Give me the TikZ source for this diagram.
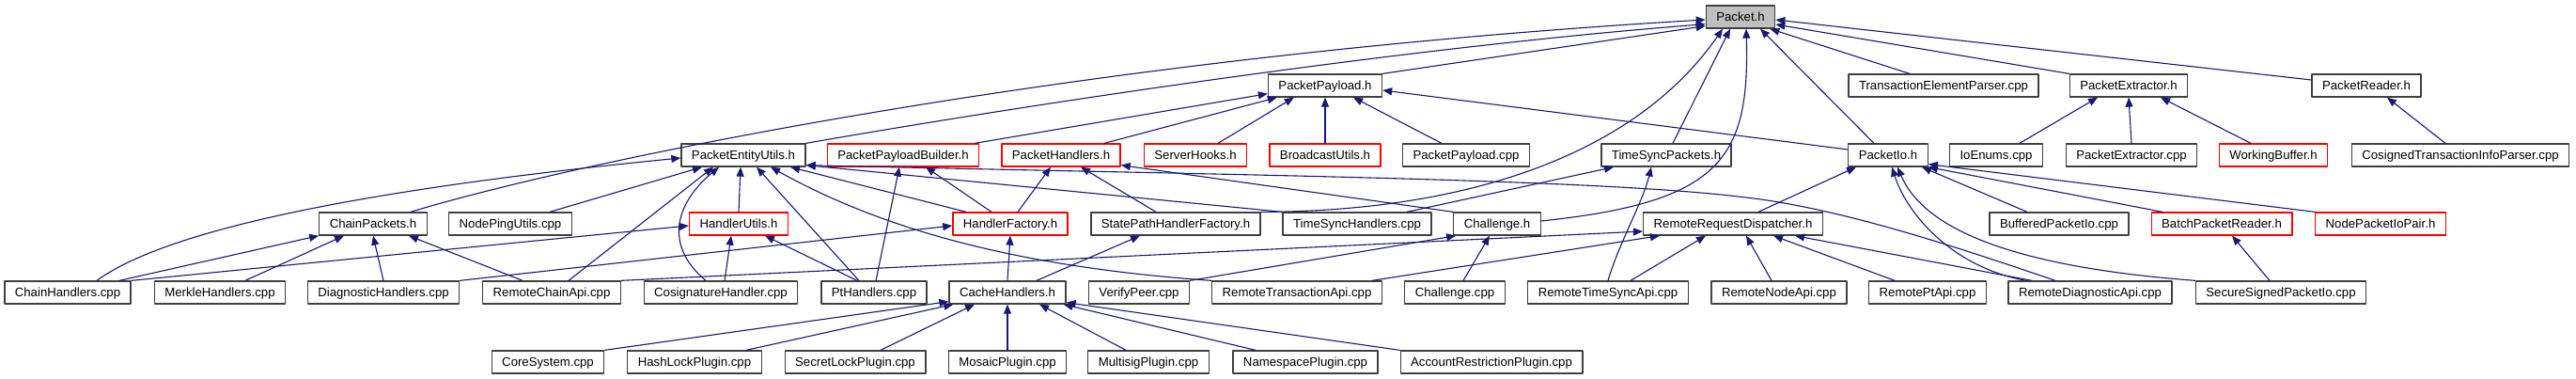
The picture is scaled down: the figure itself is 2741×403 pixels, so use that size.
\documentclass[tikz,border=0pt]{standalone}
\usepackage{fontspec}
\setmainfont{Liberation Sans}
\usepackage{tikz}
\usetikzlibrary{arrows.meta}
\definecolor{edgeblue}{HTML}{191970}
\definecolor{rootgray}{HTML}{BFBFBF}
\definecolor{truncred}{HTML}{FF0000}
\definecolor{boxline}{HTML}{404040}

\begin{document}
\begin{tikzpicture}[line cap=round,line join=round,>={Triangle[length=10pt,width=8pt]},x=1pt,y=-1pt,
	filebox/.style={draw=boxline,line width=1.3pt,fill=white,minimum height=24pt,inner xsep=11pt,inner ysep=0pt,text height=9.5pt,text depth=0pt,font=\fontsize{13.2}{15}\selectfont},
	redbox/.style={filebox,draw=truncred},
	rootbox/.style={filebox,fill=rootgray},
	inc/.style={->,draw=edgeblue,line width=1.1pt}]
	\useasboundingbox (0,0) rectangle (2741,403);
	\fill[white] (0,0) rectangle (2741,403);
	\node[rootbox] (pkt) at (1852,18) {Packet.h};
	\node[filebox] (payload) at (1410,91) {PacketPayload.h};
	\node[filebox] (txparser) at (2068,91) {TransactionElementParser.cpp};
	\node[filebox] (extractor) at (2265,91) {PacketExtractor.h};
	\node[filebox] (reader) at (2518,91) {PacketReader.h};
	\node[filebox] (entity) at (791,165) {PacketEntityUtils.h};
	\node[redbox] (builder) at (961,165) {PacketPayloadBuilder.h};
	\node[redbox] (handlers) at (1129,165) {PacketHandlers.h};
	\node[redbox] (hooks) at (1272,165) {ServerHooks.h};
	\node[redbox] (broadcast) at (1410,165) {BroadcastUtils.h};
	\node[filebox] (payloadcpp) at (1560,165) {PacketPayload.cpp};
	\node[filebox] (tspackets) at (1773,165) {TimeSyncPackets.h};
	\node[filebox] (pio) at (2009,165) {PacketIo.h};
	\node[filebox] (ioenums) at (2124,165) {IoEnums.cpp};
	\node[filebox] (extractorcpp) at (2268,165) {PacketExtractor.cpp};
	\node[redbox] (workbuf) at (2419,165) {WorkingBuffer.h};
	\node[filebox] (cosigned) at (2618,165) {CosignedTransactionInfoParser.cpp};
	\node[filebox] (chainpk) at (397,238) {ChainPackets.h};
	\node[filebox] (pingutils) at (543,238) {NodePingUtils.cpp};
	\node[redbox] (hutils) at (786,238) {HandlerUtils.h};
	\node[redbox] (hfactory) at (1075,238) {HandlerFactory.h};
	\node[filebox] (statepath) at (1251,238) {StatePathHandlerFactory.h};
	\node[filebox] (tshandlers) at (1444,238) {TimeSyncHandlers.cpp};
	\node[filebox] (challengeh) at (1593,238) {Challenge.h};
	\node[filebox] (dispatcher) at (1844,238) {RemoteRequestDispatcher.h};
	\node[filebox] (bufferedio) at (2191,238) {BufferedPacketIo.cpp};
	\node[redbox] (batchreader) at (2364,238) {BatchPacketReader.h};
	\node[redbox] (iopair) at (2533,238) {NodePacketIoPair.h};
	\node[filebox] (chainhcpp) at (72,311) {ChainHandlers.cpp};
	\node[filebox] (merkle) at (234,311) {MerkleHandlers.cpp};
	\node[filebox] (diaghandlers) at (408,311) {DiagnosticHandlers.cpp};
	\node[filebox] (rchainapi) at (587,311) {RemoteChainApi.cpp};
	\node[filebox] (cosighandler) at (767,311) {CosignatureHandler.cpp};
	\node[filebox] (pthandlers) at (930,311) {PtHandlers.cpp};
	\node[filebox] (cachehandlers) at (1072,311) {CacheHandlers.h};
	\node[filebox] (verifypeer) at (1212,311) {VerifyPeer.cpp};
	\node[filebox] (rtxapi) at (1380,311) {RemoteTransactionApi.cpp};
	\node[filebox] (challengecpp) at (1548,311) {Challenge.cpp};
	\node[filebox] (rtsapi) at (1711,311) {RemoteTimeSyncApi.cpp};
	\node[filebox] (rnodeapi) at (1893,311) {RemoteNodeApi.cpp};
	\node[filebox] (rptapi) at (2051,311) {RemotePtApi.cpp};
	\node[filebox] (rdiagapi) at (2224,311) {RemoteDiagnosticApi.cpp};
	\node[filebox] (securesigned) at (2427,311) {SecureSignedPacketIo.cpp};
	\node[filebox] (coresystem) at (583,385) {CoreSystem.cpp};
	\node[filebox] (hashlock) at (739,385) {HashLockPlugin.cpp};
	\node[filebox] (secretlock) at (910,385) {SecretLockPlugin.cpp};
	\node[filebox] (mosaic) at (1072,385) {MosaicPlugin.cpp};
	\node[filebox] (multisig) at (1222,385) {MultisigPlugin.cpp};
	\node[filebox] (namespace) at (1389,385) {NamespacePlugin.cpp};
	\node[filebox] (acctrestrict) at (1587,385) {AccountRestrictionPlugin.cpp};

	\draw[inc] (payload.north east) -- ([yshift=3pt]pkt.south west);
	\draw[inc] (entity.north east) .. controls (1100,110) and (1500,50) .. ([yshift=5pt]pkt.south west);
	\draw[inc] ([xshift=40pt]chainpk.north) .. controls (620,170) and (1150,60) .. ([yshift=-3pt]pkt.west);
	\draw[inc] (statepath.north east) .. controls (1560,225) and (1740,165) .. ([xshift=-19pt]pkt.south);
	\draw[inc] ([xshift=7pt]tspackets.north) -- ([xshift=-11pt]pkt.south);
	\draw[inc] ([yshift=3pt]challengeh.east) .. controls (1830,215) and (1862,170) .. ([xshift=6pt]pkt.south);
	\draw[inc] ([xshift=-15pt]pio.north) -- ([xshift=21pt]pkt.south);
	\draw[inc] ([xshift=-36pt]txparser.north) -- ([xshift=-6pt]pkt.south east);
	\draw[inc] (extractor.north west) -- ([yshift=-8pt]pkt.east);
	\draw[inc] ([yshift=6pt]reader.west) -- ([yshift=-3pt]pkt.east);

	\draw[inc] ([xshift=-5pt]builder.north east) -- ([yshift=4pt]payload.south west);
	\draw[inc] ([xshift=46pt]handlers.north) -- ([xshift=10pt]payload.south west);
	\draw[inc] ([xshift=24pt]hooks.north) -- ([xshift=28pt]payload.south west);
	\draw[inc] (broadcast.north) -- (payload.south);
	\draw[inc] ([xshift=-26pt]payloadcpp.north) -- ([xshift=30pt]payload.south);
	\draw[inc] ([yshift=6pt]pio.west) -- ([yshift=-5pt]payload.east);

	\draw[inc] ([xshift=25pt]ioenums.north) -- ([xshift=-33pt]extractor.south);
	\draw[inc] (extractorcpp.north) -- (extractor.south);
	\draw[inc] ([xshift=-24pt]workbuf.north) -- ([xshift=34pt]extractor.south);
	\draw[inc] ([xshift=-16pt]cosigned.north) -- ([xshift=22pt]reader.south);

	\draw[inc] ([xshift=31pt]chainhcpp.north) .. controls (190,235) and (450,195) .. ([yshift=-3pt]entity.west);
	\draw[inc] ([xshift=42pt]pingutils.north) -- ([xshift=-44pt]entity.south);
	\draw[inc] ([xshift=18pt]rchainapi.north) -- ([xshift=-32pt]entity.south);
	\draw[inc] ([xshift=-16pt]cosighandler.north) .. controls (705,260) and (720,215) .. ([xshift=-26pt]entity.south);
	\draw[inc] (hutils.north) -- ([xshift=-3pt]entity.south);
	\draw[inc] ([xshift=-16pt]pthandlers.north) -- ([xshift=14pt]entity.south);
	\draw[inc] (rtxapi.north west) .. controls (1100,285) and (950,250) .. ([xshift=29pt]entity.south);
	\draw[inc] ([xshift=-47pt]hfactory.north) -- ([xshift=50pt]entity.south);
	\draw[inc] (tshandlers.north west) -- ([yshift=2pt]entity.south east);
	\draw[inc] ([xshift=-37pt]rdiagapi.north) .. controls (2080,262) and (1960,222) .. (1858,210) .. controls (1700,190) and (1300,186) .. ([yshift=2pt]entity.south east);

	\draw[inc] ([xshift=2pt]pthandlers.north) -- ([xshift=-4pt]builder.south);
	\draw[inc] ([xshift=-20pt]hfactory.north) -- ([xshift=24pt]builder.south);
	\draw[inc] ([xshift=8pt]hfactory.north) -- ([xshift=-11pt]handlers.south);
	\draw[inc] ([xshift=-21pt]statepath.north) -- ([xshift=21pt]handlers.south);
	\draw[inc] (challengeh.north west) -- ([yshift=2pt]handlers.south east);
	\draw[inc] ([xshift=53pt]tshandlers.north) -- ([xshift=-56pt]tspackets.south);
	\draw[inc] (rtsapi.north) .. controls (1722,260) and (1748,215) .. ([xshift=-16pt]tspackets.south);

	\draw[inc] ([xshift=27pt]dispatcher.north) -- ([xshift=-34pt]pio.south);
	\draw[inc] ([xshift=-68pt]rdiagapi.north) .. controls (2080,285) and (2030,230) .. ([xshift=4pt]pio.south);
	\draw[inc] (securesigned.north west) .. controls (2160,285) and (2050,250) .. ([xshift=10pt]pio.south);
	\draw[inc] ([xshift=-34pt]bufferedio.north) -- ([xshift=36pt]pio.south);
	\draw[inc] ([xshift=-63pt]batchreader.north) -- (pio.south east);
	\draw[inc] (iopair.north west) -- ([yshift=3pt]pio.south east);

	\draw[inc] ([xshift=55pt]chainhcpp.north) -- (chainpk.south west);
	\draw[inc] ([xshift=27pt]merkle.north) -- ([xshift=-31pt]chainpk.south);
	\draw[inc] (diaghandlers.north) -- (chainpk.south);
	\draw[inc] ([xshift=-31pt]rchainapi.north) -- ([xshift=38pt]chainpk.south);
	\draw[inc] (chainhcpp.north east) -- ([yshift=-2pt]hutils.west);
	\draw[inc] ([xshift=4pt]cosighandler.north) -- ([xshift=-8pt]hutils.south);
	\draw[inc] ([xshift=-18pt]pthandlers.north) -- ([xshift=28pt]hutils.south);
	\draw[inc] (diaghandlers.north east) -- ([yshift=-2pt]hfactory.west);
	\draw[inc] (cachehandlers.north) -- (hfactory.south);
	\draw[inc] ([xshift=31pt]cachehandlers.north) -- ([xshift=-38pt]statepath.south);
	\draw[inc] (verifypeer.north east) -- ([xshift=3pt]challengeh.south west);
	\draw[inc] ([xshift=9pt]challengecpp.north) -- ([xshift=-8pt]challengeh.south);

	\draw[inc] (rchainapi.north east) -- ([yshift=-8pt]dispatcher.west);
	\draw[inc] ([xshift=80pt]rtxapi.north) -- ([xshift=18pt]dispatcher.south west);
	\draw[inc] ([xshift=24pt]rtsapi.north) -- ([xshift=-29pt]dispatcher.south);
	\draw[inc] ([xshift=-8pt]rnodeapi.north) -- ([xshift=14pt]dispatcher.south);
	\draw[inc] ([xshift=-35pt]rptapi.north) -- ([xshift=43pt]dispatcher.south);
	\draw[inc] ([xshift=-62pt]rdiagapi.north) -- ([xshift=66pt]dispatcher.south);
	\draw[inc] ([xshift=-12pt]securesigned.north) -- ([xshift=11pt]batchreader.south);

	\draw[inc] (coresystem.north east) -- ([yshift=3pt]cachehandlers.south west);
	\draw[inc] ([xshift=55pt]hashlock.north) -- ([xshift=5pt]cachehandlers.south west);
	\draw[inc] ([xshift=27pt]secretlock.north) -- ([xshift=-35pt]cachehandlers.south);
	\draw[inc] (mosaic.north) -- (cachehandlers.south);
	\draw[inc] ([xshift=-24pt]multisig.north) -- ([xshift=34pt]cachehandlers.south);
	\draw[inc] ([xshift=-53pt]namespace.north) -- ([xshift=-3pt]cachehandlers.south east);
	\draw[inc] (acctrestrict.north west) -- ([yshift=2pt]cachehandlers.south east);
\end{tikzpicture}
\end{document}
